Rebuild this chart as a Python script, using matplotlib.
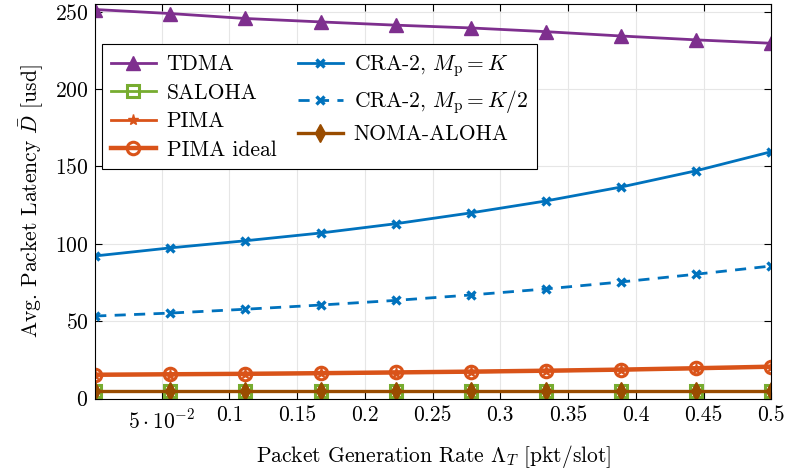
import numpy as np
import matplotlib
matplotlib.use('Agg')
import matplotlib.pyplot as plt

plt.rcParams['font.family'] = 'serif'
plt.rcParams['font.serif'] = ['cmr10']
plt.rcParams['mathtext.fontset'] = 'cm'
plt.rcParams['axes.formatter.use_mathtext'] = True

# packet generation rate
rate = [0.001, 0.0564, 0.1119, 0.1673, 0.2228, 0.2783, 0.3337, 0.3892, 0.4446, 0.5]

tdma = [251.3, 248.7, 245.5, 243.3, 241.2, 239.4, 237.0, 234.2, 231.7, 229.5]
saloha = [4.9, 4.9, 4.9, 4.9, 4.9, 4.9, 4.9, 4.9, 4.9, 4.9]
pima = [15.3, 15.6, 15.9, 16.3, 16.8, 17.3, 17.9, 18.6, 19.5, 20.5]
pima_ideal = [15.5, 15.8, 16.1, 16.5, 17.0, 17.5, 18.1, 18.8, 19.7, 20.7]
cra_k = [92.2, 97.4, 102.0, 107.0, 113.0, 120.0, 127.7, 136.7, 147.2, 159.5]
cra_k2 = [53.4, 55.3, 57.8, 60.5, 63.5, 67.0, 70.9, 75.4, 80.4, 85.7]
noma = [4.9, 4.9, 4.9, 4.9, 4.9, 4.9, 4.9, 4.9, 4.9, 4.9]

xticks = [0.05, 0.1, 0.15, 0.2, 0.25, 0.3, 0.35, 0.4, 0.45, 0.5]
xticklabels = [r'$5\cdot10^{-2}$', '0.1', '0.15', '0.2', '0.25', '0.3', '0.35', '0.4', '0.45', '0.5']
yticks = [0, 50, 100, 150, 200, 250]

fig = plt.figure(figsize=(7.87, 4.73), dpi=100)
ax = fig.add_axes([0.121, 0.157, 0.859, 0.835])

ax.plot(rate, tdma, color='#7E2F8E', lw=2, marker='^', ms=9.5, label='TDMA')
ax.plot(rate, saloha, color='#77AC30', lw=2, marker='s', ms=9, mfc='none', mew=2.2, label='SALOHA')
ax.plot(rate, pima, color='#D95319', lw=2, marker='*', ms=8, label='PIMA')
ax.plot(rate, pima_ideal, color='#D95319', lw=3.2, marker='o', ms=9, mfc='none', mew=2.2, label='PIMA ideal')
ax.plot(rate, cra_k, color='#0072BD', lw=2, marker='x', ms=6, mew=2.4, label=r'CRA-2, $M_\mathrm{p}=K$')
ax.plot(rate, cra_k2, color='#0072BD', lw=2, ls=(0, (4, 3)), marker='x', ms=6, mew=2.4,
        label=r'CRA-2, $M_\mathrm{p}=K/2$')
ax.plot(rate, noma, color='#994C00', lw=2.4, marker='d', ms=9, label='NOMA-ALOHA')

ax.set_xlim(0.001, 0.5)
ax.set_ylim(0, 255)
ax.set_xticks(xticks)
ax.set_xticklabels(xticklabels)
ax.set_yticks(yticks)
ax.tick_params(direction='in', top=True, right=True, labelsize=15.5, length=5, pad=5)
ax.xaxis.get_major_ticks()[0].set_pad(7)
ax.grid(True, color='#e6e6e6', lw=0.8)
ax.set_axisbelow(True)

ax.set_xlabel(r'Packet Generation Rate $\Lambda_T$ [pkt/slot]', fontsize=15.5, labelpad=8)
ax.set_ylabel(r'Avg. Packet Latency $\bar{D}$ [usd]', fontsize=15.5, labelpad=6)

# legend order: column-wise
leg = ax.legend(ncol=2, loc='upper left', bbox_to_anchor=(0.01, 0.897), fontsize=15.5,
                frameon=True, fancybox=False, edgecolor='black', framealpha=1,
                handlelength=2.1, columnspacing=1.0, borderaxespad=0.0,
                labelspacing=0.42, handletextpad=0.5, borderpad=0.4)
leg.get_frame().set_linewidth(0.8)

fig.savefig('out.png', dpi=100)
